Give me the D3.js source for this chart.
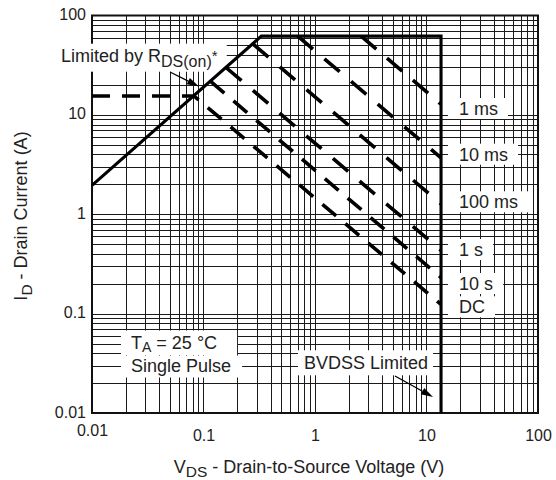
<!DOCTYPE html>
<html>
<head>
<meta charset="utf-8">
<script src="https://cdn.jsdelivr.net/npm/d3@7"></script>
<style>
  html, body { margin: 0; padding: 0; background: #fff; }
  svg { display: block; font-family: "Liberation Sans", Arial, Helvetica, sans-serif; }
</style>
</head>
<body>
<svg id="chart" width="556" height="480"></svg>
<script>
// ---- Safe operating area data (V, A) ----
const xTickValues = [0.01, 0.1, 1, 10, 100];
const xTickLabels = ["0.01", "0.1", "1", "10", "100"];
const yTickValues = [0.01, 0.1, 1, 10, 100];
const yTickLabels = ["0.01", "0.1", "1", "10", "100"];

// R_DS(on) limited region (straight line on log-log axes)
const rdsOnLimit = [[0.01, 1.95], [0.33, 62]];
// pulsed drain current ceiling (A) and breakdown voltage (V)
const pulsedCurrentLimit = 62;
const bvdss = 13.5;

// pulse-width boundaries
const pulseNames = ["1 ms", "10 ms", "100 ms", "1 s", "10 s", "DC"];
const pulse1ms   = [[2.59, 62], [13.5, 12.8]];
const pulse10ms  = [[0.70, 62], [13.5, 3.69]];
const pulse100ms = [[0.279, 51.4], [13.5, 1.27]];
const pulse1s    = [[0.160, 29.8], [13.5, 0.433]];
const pulse10s   = [[0.1158, 21.7], [13.5, 0.231]];
const pulseDC    = [[0.01, 15.5], [0.082, 15.5], [13.5, 0.124]];
const pulseSeries = [pulse1ms, pulse10ms, pulse100ms, pulse1s, pulse10s, pulseDC];

// ---- layout ----
const svg = d3.select("#chart");
const plot = { left: 92, right: 538, top: 15.5, bottom: 413 };
const annotFont = 18;
const subFont = 15.5;
const tickFont = 16;
const ink = "#222";

const x = d3.scaleLog().domain([0.01, 100]).range([plot.left, plot.right]);
const y = d3.scaleLog().domain([0.01, 100]).range([plot.bottom, plot.top]);

const crisp = v => Math.round(v) + 0.5;

const gGrid  = svg.append("g");
const gFrame = svg.append("g");
const gBoxes = svg.append("g");
const gLines = svg.append("g");
const gText  = svg.append("g");

// ---- grid: every 1..9 step of each decade ----
const xGrid = x.ticks().filter(v => v > 0.01 && v < 100);
const yGrid = y.ticks().filter(v => v > 0.01 && v < 100);

gGrid.selectAll("line.vx").data(xGrid).join("line")
  .attr("x1", d => crisp(x(d))).attr("x2", d => crisp(x(d)))
  .attr("y1", plot.top).attr("y2", plot.bottom)
  .attr("stroke", "#1a1a1a").attr("stroke-width", 1);

gGrid.selectAll("line.hy").data(yGrid).join("line")
  .attr("y1", d => crisp(y(d))).attr("y2", d => crisp(y(d)))
  .attr("x1", plot.left).attr("x2", plot.right)
  .attr("stroke", "#1a1a1a").attr("stroke-width", 1);

gFrame.append("rect")
  .attr("x", plot.left).attr("y", plot.top)
  .attr("width", plot.right - plot.left).attr("height", plot.bottom - plot.top)
  .attr("fill", "none").attr("stroke", "#111").attr("stroke-width", 2);

// ---- axes ----
const xAxis = d3.axisBottom(x)
  .tickValues(xTickValues)
  .tickFormat((d, i) => xTickLabels[i])
  .tickSize(0).tickPadding(17);

const gx = svg.append("g").attr("transform", `translate(0,${plot.bottom})`).call(xAxis);
gx.select(".domain").remove();
gx.selectAll("text").attr("font-size", tickFont).attr("fill", ink)
  .style("font-family", "'Liberation Sans', Arial, sans-serif");
// the lowest voltage label sits a little higher, clear of the current label
gx.selectAll(".tick").filter(d => d === 0.01).select("text").attr("y", 12);

const yAxis = d3.axisLeft(y)
  .tickValues(yTickValues)
  .tickFormat((d, i) => yTickLabels[i])
  .tickSize(0).tickPadding(6);

const gy = svg.append("g").attr("transform", `translate(${plot.left},0)`).call(yAxis);
gy.select(".domain").remove();
gy.selectAll("text").attr("font-size", tickFont).attr("fill", ink).attr("dy", "0.25em")
  .style("font-family", "'Liberation Sans', Arial, sans-serif");

// Runs of text set one after another on a shared baseline; each run may be
// smaller and shifted (subscripts / superscripts). Returns the group.
function richText(parent, runs, anchor) {
  const g = parent.append("g");
  let cx = 0;
  runs.forEach(r => {
    const t = g.append("text")
      .attr("x", cx).attr("y", r.shift || 0)
      .attr("font-size", r.size || annotFont).attr("fill", ink)
      .attr("xml:space", "preserve")
      .style("white-space", "pre")
      .text(r.t);
    cx += t.node().getComputedTextLength();
  });
  if (anchor === "middle") g.selectAll("text").attr("x", function () { return +this.getAttribute("x") - cx / 2; });
  return g;
}

// axis titles
richText(svg, [
  { t: "V" }, { t: "DS", size: subFont, shift: 3.5 }, { t: " - Drain-to-Source Voltage (V)" }
], "middle").attr("transform", "translate(309,473)");

richText(svg, [
  { t: "I" }, { t: "D", size: subFont, shift: 5 }, { t: " - Drain Current (A)" }
], "middle").attr("transform", "translate(26.5,216) rotate(-90)");

// ---- limit envelope: R_DS(on) line, current ceiling, BVDSS wall ----
const line = d3.line().x(d => x(d[0])).y(d => y(d[1]));

const envelope = [
  rdsOnLimit[0],
  rdsOnLimit[1],
  [bvdss, pulsedCurrentLimit],
  [bvdss, 0.01]
];

// ---- pulse boundaries (dashed) ----
const dashStyles = ["20,14", "20,15", "20,15", "20,15", "18,12", "18,12"];

gLines.selectAll("path.pulse").data(pulseSeries).join("path")
  .attr("class", "pulse")
  .attr("d", d => line(d))
  .attr("fill", "none").attr("stroke", "#000")
  .attr("stroke-width", 3.6)
  .attr("stroke-dasharray", (d, i) => dashStyles[i]);

gLines.append("path")
  .attr("d", line(envelope))
  .attr("fill", "none").attr("stroke", "#000")
  .attr("stroke-width", 3.1).attr("stroke-linejoin", "miter");

// ---- text annotations with white backing boxes ----
function backBox(sel, pad) {
  const node = sel.node();
  const b = node.getBBox();
  const tr = sel.attr("transform");
  gBoxes.append("rect")
    .attr("transform", tr && tr.startsWith("translate") && !tr.includes("rotate") ? tr : null)
    .attr("x", b.x - pad.l).attr("y", b.y - pad.t)
    .attr("width", b.width + pad.l + pad.r).attr("height", b.height + pad.t + pad.b)
    .attr("fill", "#fff");
}

// pulse-width labels to the right of the BVDSS wall
const pulseLabelBaselines = [115, 160.7, 208.3, 256, 290, 313.3];
pulseNames.forEach((name, i) => {
  const t = gText.append("text")
    .attr("x", 459).attr("y", pulseLabelBaselines[i])
    .attr("font-size", annotFont).attr("fill", ink).text(name);
  backBox(t, { l: 11, r: 10, t: 1, b: 0 });
});

// "Limited by R_DS(on)*"
const rdsText = richText(gText, [
  { t: "Limited by R" }, { t: "DS(on)", size: 16, shift: 5 }, { t: "*", size: 15, shift: -1 }
]).attr("transform", "translate(61,61.7)");
backBox(rdsText, { l: 0, r: 9, t: 2, b: 2 });

// test conditions
const condLine1 = richText(gText, [
  { t: "T" }, { t: "A", size: 14, shift: 3.5 }, { t: " = 25 °C" }
]).attr("transform", "translate(131,348.5)");
const condLine2 = gText.append("text")
  .attr("x", 131).attr("y", 371.5)
  .attr("font-size", annotFont).attr("fill", ink).text("Single Pulse");
backBox(condLine1, { l: 10, r: 20, t: 2, b: 0 });
backBox(condLine2, { l: 10, r: 11, t: 0, b: 2 });

// "BVDSS Limited"
const bvText = gText.append("text")
  .attr("x", 304).attr("y", 369.3)
  .attr("font-size", annotFont).attr("fill", ink).text("BVDSS Limited");
backBox(bvText, { l: 6, r: 5, t: 3, b: 2 });

// pointer arrows
function arrow(x1, y1, x2, y2) {
  const ang = Math.atan2(y2 - y1, x2 - x1);
  const len = 12, half = 3.6;
  const bx = x2 - len * Math.cos(ang), by = y2 - len * Math.sin(ang);
  gText.append("line")
    .attr("x1", x1).attr("y1", y1).attr("x2", bx).attr("y2", by)
    .attr("stroke", "#000").attr("stroke-width", 1.3);
  const px = -Math.sin(ang) * half, py = Math.cos(ang) * half;
  gText.append("path")
    .attr("d", `M${x2},${y2}L${bx + px},${by + py}L${bx - px},${by - py}Z`)
    .attr("fill", "#000");
}
arrow(170, 72, 199, 86.5);
arrow(395, 376, 433, 397);
</script>
</body>
</html>
